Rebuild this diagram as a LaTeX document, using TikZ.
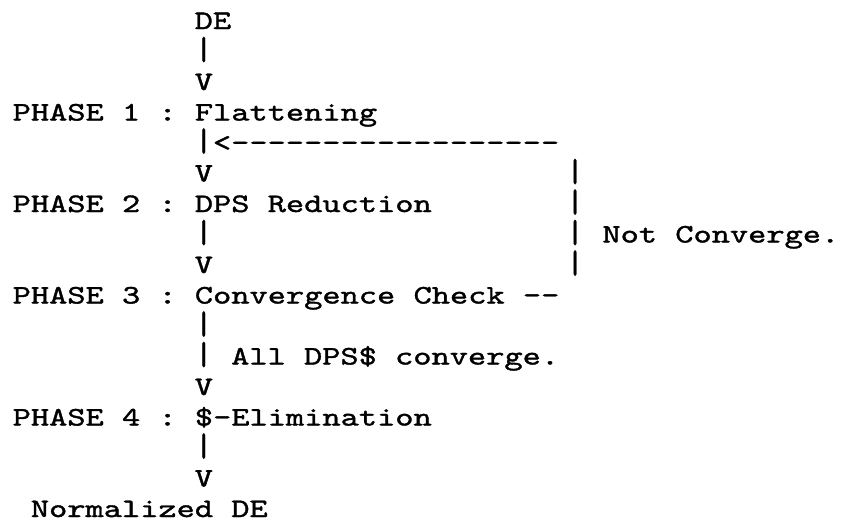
\documentclass[tikz,border=0pt]{standalone}
\usepackage{fontspec}
\setmonofont{lmmono10-regular.otf}[FakeStretch=1.3, FakeBold=1.4]
\usepackage{graphicx}
\usepackage{tikz}
\usetikzlibrary{calc}

% one typed character cell
\tikzset{
	line/.style={anchor=base west, inner sep=0pt, outer sep=0pt,
		font=\ttfamily\fontsize{26.7}{30}\selectfont}
}
% the typewriter bar strikes a bit longer than the font's own
\newcommand{\tbar}{\raisebox{0pt}{\scalebox{1}[1.22]{|}}}

\begin{document}
\begin{tikzpicture}[x=18.2pt, y=-30.5pt]

	\useasboundingbox (0pt,0pt) rectangle (845pt,-528pt);

	\begin{scope}[xshift=12.7pt, yshift=-29pt]
	% main column (col 10 carries the arrows)
	\node[line] (de)   at (10,0)  {DE};
	\node[line] (bar1) at (10,1)  {\tbar};
	\node[line] (arr1) at (10,2)  {V};
	\node[line] (ph1)  at (0,3)   {PHASE 1 : Flattening};
	\node[line] (loop) at (10,4)  {\tbar<------------------};
	\node[line] (arr2) at (10,5)  {V};
	\node[line] (ph2)  at (0,6)   {PHASE 2 : DPS Reduction};
	\node[line] (bar2) at (10,7)  {\tbar};
	\node[line] (arr3) at (10,8)  {V};
	\node[line] (ph3)  at (0,9)   {PHASE 3 : Convergence Check --};
	\node[line] (bar3) at (10,10) {\tbar};
	\node[line] (conv) at (10,11) {\tbar{} All DPS\$ converge.};
	\node[line] (arr4) at (10,12) {V};
	\node[line] (ph4)  at (0,13)  {PHASE 4 : \$-Elimination};
	\node[line] (bar4) at (10,14) {\tbar};
	\node[line] (arr5) at (10,15) {V};
	\node[line] (nde)  at (1,16)  {Normalized DE};

	% back edge, a little right of col 30
	\node[line] (back1) at (30.4,5) {\tbar};
	\node[line] (back2) at (30.4,6) {\tbar};
	\node[line] (nconv) at (30.4,7) {\tbar{} Not Converge.};
	\node[line] (back3) at (30.4,8) {\tbar};
	\end{scope}

\end{tikzpicture}
\end{document}
